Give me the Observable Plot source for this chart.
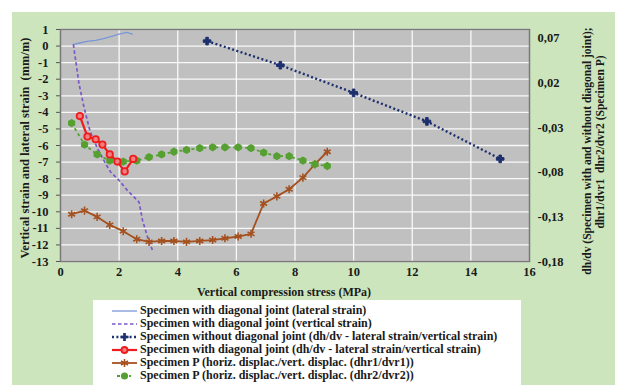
<!DOCTYPE html>
<html><head><meta charset="utf-8">
<script src="https://cdn.jsdelivr.net/npm/d3@7"></script>
<script src="https://cdn.jsdelivr.net/npm/@observablehq/plot@0.6"></script>
<style>
body{margin:0;background:#fff;font-family:"Liberation Serif","Times New Roman",Tinos,"DejaVu Serif",serif;}
#wrap{position:relative;width:621px;height:385px;overflow:hidden;}
#bg{position:absolute;left:12px;top:12px;width:603px;height:373px;background:#cde5bd;}
#chart{position:absolute;left:0;top:0;}
#legend{position:absolute;left:93px;top:300px;width:428px;height:85px;background:#fff;}
.row{position:absolute;left:18px;height:13px;display:flex;align-items:center;font-weight:bold;font-size:12px;color:#1a1a1a;white-space:nowrap;}
.row svg{margin-right:2px;}
</style></head>
<body>
<div id="wrap"><div id="bg"></div><div id="chart"></div><div id="legend"></div></div>
<script>
// ---- data ----
const xTicks = [0, 2, 4, 6, 8, 10, 12, 14, 16];
const leftTicks = [-13, -12, -11, -10, -9, -8, -7, -6, -5, -4, -3, -2, -1, 0, 1];
const rightTicks = [-0.18, -0.13, -0.08, -0.03, 0.02, 0.07];
const rightDomain = [-0.18, 0.08];

const stressLateral = [0.44, 0.69, 0.95, 1.20, 1.47, 1.71, 2.00, 2.26, 2.45];
const lateralStrain = [0.1, 0.2, 0.3, 0.35, 0.45, 0.57, 0.72, 0.82, 0.72];

const stressVertical = [0.44, 0.63, 0.80, 1.01, 1.26, 1.54, 1.71, 2.00, 2.28, 2.68, 2.80, 2.97, 3.14];
const verticalStrain = [0.1, -2.26, -3.68, -5.15, -6.17, -7.10, -7.60, -8.11, -8.71, -9.42, -10.52, -11.53, -12.34];

const stressNoJoint = [5, 7.5, 10, 12.5, 15];
const ratioNoJoint = [0.067, 0.040, 0.009, -0.023, -0.065];

const stressJoint = [0.66, 0.92, 1.20, 1.43, 1.68, 1.94, 2.19, 2.48];
const ratioJoint = [-0.017, -0.040, -0.043, -0.049, -0.060, -0.068, -0.079, -0.065];

const stressP = [0.38, 0.82, 1.25, 1.68, 2.14, 2.60, 3.02, 3.45, 3.87, 4.30, 4.75, 5.19, 5.61, 6.06, 6.50, 6.93, 7.38, 7.80, 8.27, 8.68, 9.10];
const ratioP1 = [-0.127, -0.123, -0.130, -0.139, -0.146, -0.155, -0.158, -0.157, -0.157, -0.158, -0.157, -0.156, -0.154, -0.152, -0.149, -0.115, -0.107, -0.099, -0.086, -0.071, -0.057];
const ratioP2 = [-0.025, -0.049, -0.060, -0.067, -0.068, -0.067, -0.063, -0.060, -0.057, -0.055, -0.053, -0.052, -0.052, -0.052, -0.053, -0.058, -0.062, -0.062, -0.067, -0.071, -0.073];

const seriesNames = [
  "Specimen with diagonal joint (lateral strain)",
  "Specimen with diagonal joint (vertical strain)",
  "Specimen without diagonal joint (dh/dv - lateral strain/vertical strain)",
  "Specimen with diagonal joint (dh/dv - lateral strain/vertical strain)",
  "Specimen P (horiz. displac./vert. displac. (dhr1/dvr1))",
  "Specimen P (horiz. displac./vert. displac. (dhr2/dvr2))"
];
const colors = ["#7b96d6", "#7a58c6", "#1c2f6e", "#ee1c1c", "#a4511f", "#55a030"];
const FONT = '"Liberation Serif","Times New Roman",Tinos,"DejaVu Serif",serif';

// ---- secondary axis mapping (right scale -> left scale) ----
const yL = [-13, 1];
const toLeft = v => yL[0] + (v - rightDomain[0]) * (yL[1] - yL[0]) / (rightDomain[1] - rightDomain[0]);
const zip = (xs, ys, sec) => xs.map((x, i) => ({x, y: sec ? toLeft(ys[i]) : ys[i]}));

const dLat = zip(stressLateral, lateralStrain, false);
const dVer = zip(stressVertical, verticalStrain, false);
const dNo = zip(stressNoJoint, ratioNoJoint, true);
const dJ = zip(stressJoint, ratioJoint, true);
const dP1 = zip(stressP, ratioP1, true);
const dP2 = zip(stressP, ratioP2, true);

const fmtR = v => v.toFixed(2).replace(".", ",");

const chart = Plot.plot({
  width: 621, height: 300,
  marginLeft: 60, marginRight: 92, marginTop: 29, marginBottom: 39,
  style: {background: "transparent", fontFamily: FONT, fontSize: "12.5px", fontWeight: "bold", color: "#1a1a1a", overflow: "visible"},
  x: {domain: [0, 16], label: null},
  y: {domain: yL, label: null},
  marks: [
    Plot.frame({fill: "#c0c0c0", stroke: null}),
    Plot.gridY(leftTicks, {stroke: "#ffffff", strokeOpacity: 0.9, strokeWidth: 1.3}),
    Plot.gridX(xTicks.slice(1, -1), {stroke: "#ffffff", strokeOpacity: 0.9, strokeWidth: 1.3}),
    Plot.frame({stroke: "#7a7a7a", strokeWidth: 1.5}),
    Plot.axisY(leftTicks, {anchor: "left", tickSize: 4, tickPadding: 8, tickFormat: d => String(d), label: null, stroke: "#555"}),
    Plot.axisY(rightTicks.map(toLeft), {anchor: "right", tickSize: 0, tickPadding: 8, tickFormat: d => fmtR(rightDomain[0] + (d - yL[0]) * (rightDomain[1] - rightDomain[0]) / (yL[1] - yL[0])), label: null}),
    Plot.axisX(xTicks, {anchor: "bottom", tickSize: 0, tickPadding: 6, tickFormat: d => String(d), label: null}),
    // series
    Plot.line(dLat, {x: "x", y: "y", stroke: colors[0], strokeWidth: 1.3}),
    Plot.line(dVer, {x: "x", y: "y", stroke: colors[1], strokeWidth: 1.7, strokeDasharray: "3.5,2.5", strokeLinecap: "butt"}),
    Plot.line(dNo, {x: "x", y: "y", stroke: colors[2], strokeWidth: 2.4, strokeDasharray: "2,2.4", strokeLinecap: "butt"}),
    Plot.dot(dNo, {x: "x", y: "y", symbol: "cross", r: 3.2, fill: colors[2], stroke: colors[2], strokeWidth: 1}),
    Plot.line(dP1, {x: "x", y: "y", stroke: colors[4], strokeWidth: 1.8}),
    Plot.dot(dP1, {x: "x", y: "y", symbol: "asterisk", r: 3.8, stroke: colors[4], strokeWidth: 1.6}),
    Plot.line(dP2, {x: "x", y: "y", stroke: colors[5], strokeWidth: 1.8, strokeDasharray: "3,3", strokeLinecap: "butt"}),
    Plot.dot(dP2, {x: "x", y: "y", symbol: "hexagon", r: 3.6, fill: colors[5]}),
    Plot.line(dJ, {x: "x", y: "y", stroke: colors[3], strokeWidth: 2.2}),
    Plot.dot(dJ, {x: "x", y: "y", r: 3.2, stroke: colors[3], strokeWidth: 1.8, fill: "#f08080"})
  ]
});
document.getElementById("chart").appendChild(chart);

// titles as real text
const svg = d3.select(chart);
const tstyle = s => s.attr("font-family", FONT).attr("font-weight", "bold").attr("fill", "#1a1a1a").attr("text-anchor", "middle");
svg.append("text").call(tstyle).attr("font-size", 12.5).attr("transform", "translate(29,148) rotate(-90)").text("Vertical strain and lateral strain  (mm/m)");
svg.append("text").call(tstyle).attr("font-size", 12).attr("x", 284).attr("y", 296).text("Vertical compression stress (MPa)");
svg.append("text").call(tstyle).attr("font-size", 11.5).attr("transform", "translate(591,151) rotate(-90)").text("dh/dv (Specimen with and without diagonal joint);");
svg.append("text").call(tstyle).attr("font-size", 11.5).attr("transform", "translate(604,142) rotate(-90)").text("dhr1/dvr1  dhr2/dvr2 (Specimen P)");

// legend
const legend = d3.select("#legend");
const rowTops = [4, 17, 30, 43, 56, 69];
seriesNames.forEach((name, i) => {
  const row = legend.append("div").attr("class", "row").style("top", rowTops[i] + "px");
  const s = row.append("svg").attr("width", 27).attr("height", 12);
  const ln = s.append("line").attr("x1", 1).attr("x2", 26).attr("y1", 6).attr("y2", 6).attr("stroke", colors[i]);
  if (i === 0) ln.attr("stroke-width", 1.3);
  if (i === 1) ln.attr("stroke-width", 1.7).attr("stroke-dasharray", "3.5,2.5");
  if (i === 2) { ln.attr("stroke-width", 2.4).attr("stroke-dasharray", "2,2.4");
    s.append("path").attr("transform", "translate(13.5,6)").attr("d", d3.symbol(d3.symbolCross, 36)()).attr("fill", colors[2]); }
  if (i === 3) { ln.attr("stroke-width", 2.2);
    s.append("circle").attr("cx", 13.5).attr("cy", 6).attr("r", 3).attr("stroke", colors[3]).attr("stroke-width", 1.8).attr("fill", "#f08080"); }
  if (i === 4) { ln.attr("stroke-width", 1.8);
    s.append("path").attr("transform", "translate(13.5,6)").attr("d", d3.symbol(d3.symbolAsterisk, 46)()).attr("stroke", colors[4]).attr("stroke-width", 1.6).attr("fill", "none"); }
  if (i === 5) { ln.attr("x1", 6).attr("x2", 20).attr("stroke-width", 1.8).attr("stroke-dasharray", "3,3");
    s.append("path").attr("transform", "translate(13.5,6)").attr("d", d3.symbol(d3.symbolCircle, 40)()).attr("fill", colors[5]); }
  row.append("span").text(name);
});
</script>
</body></html>
